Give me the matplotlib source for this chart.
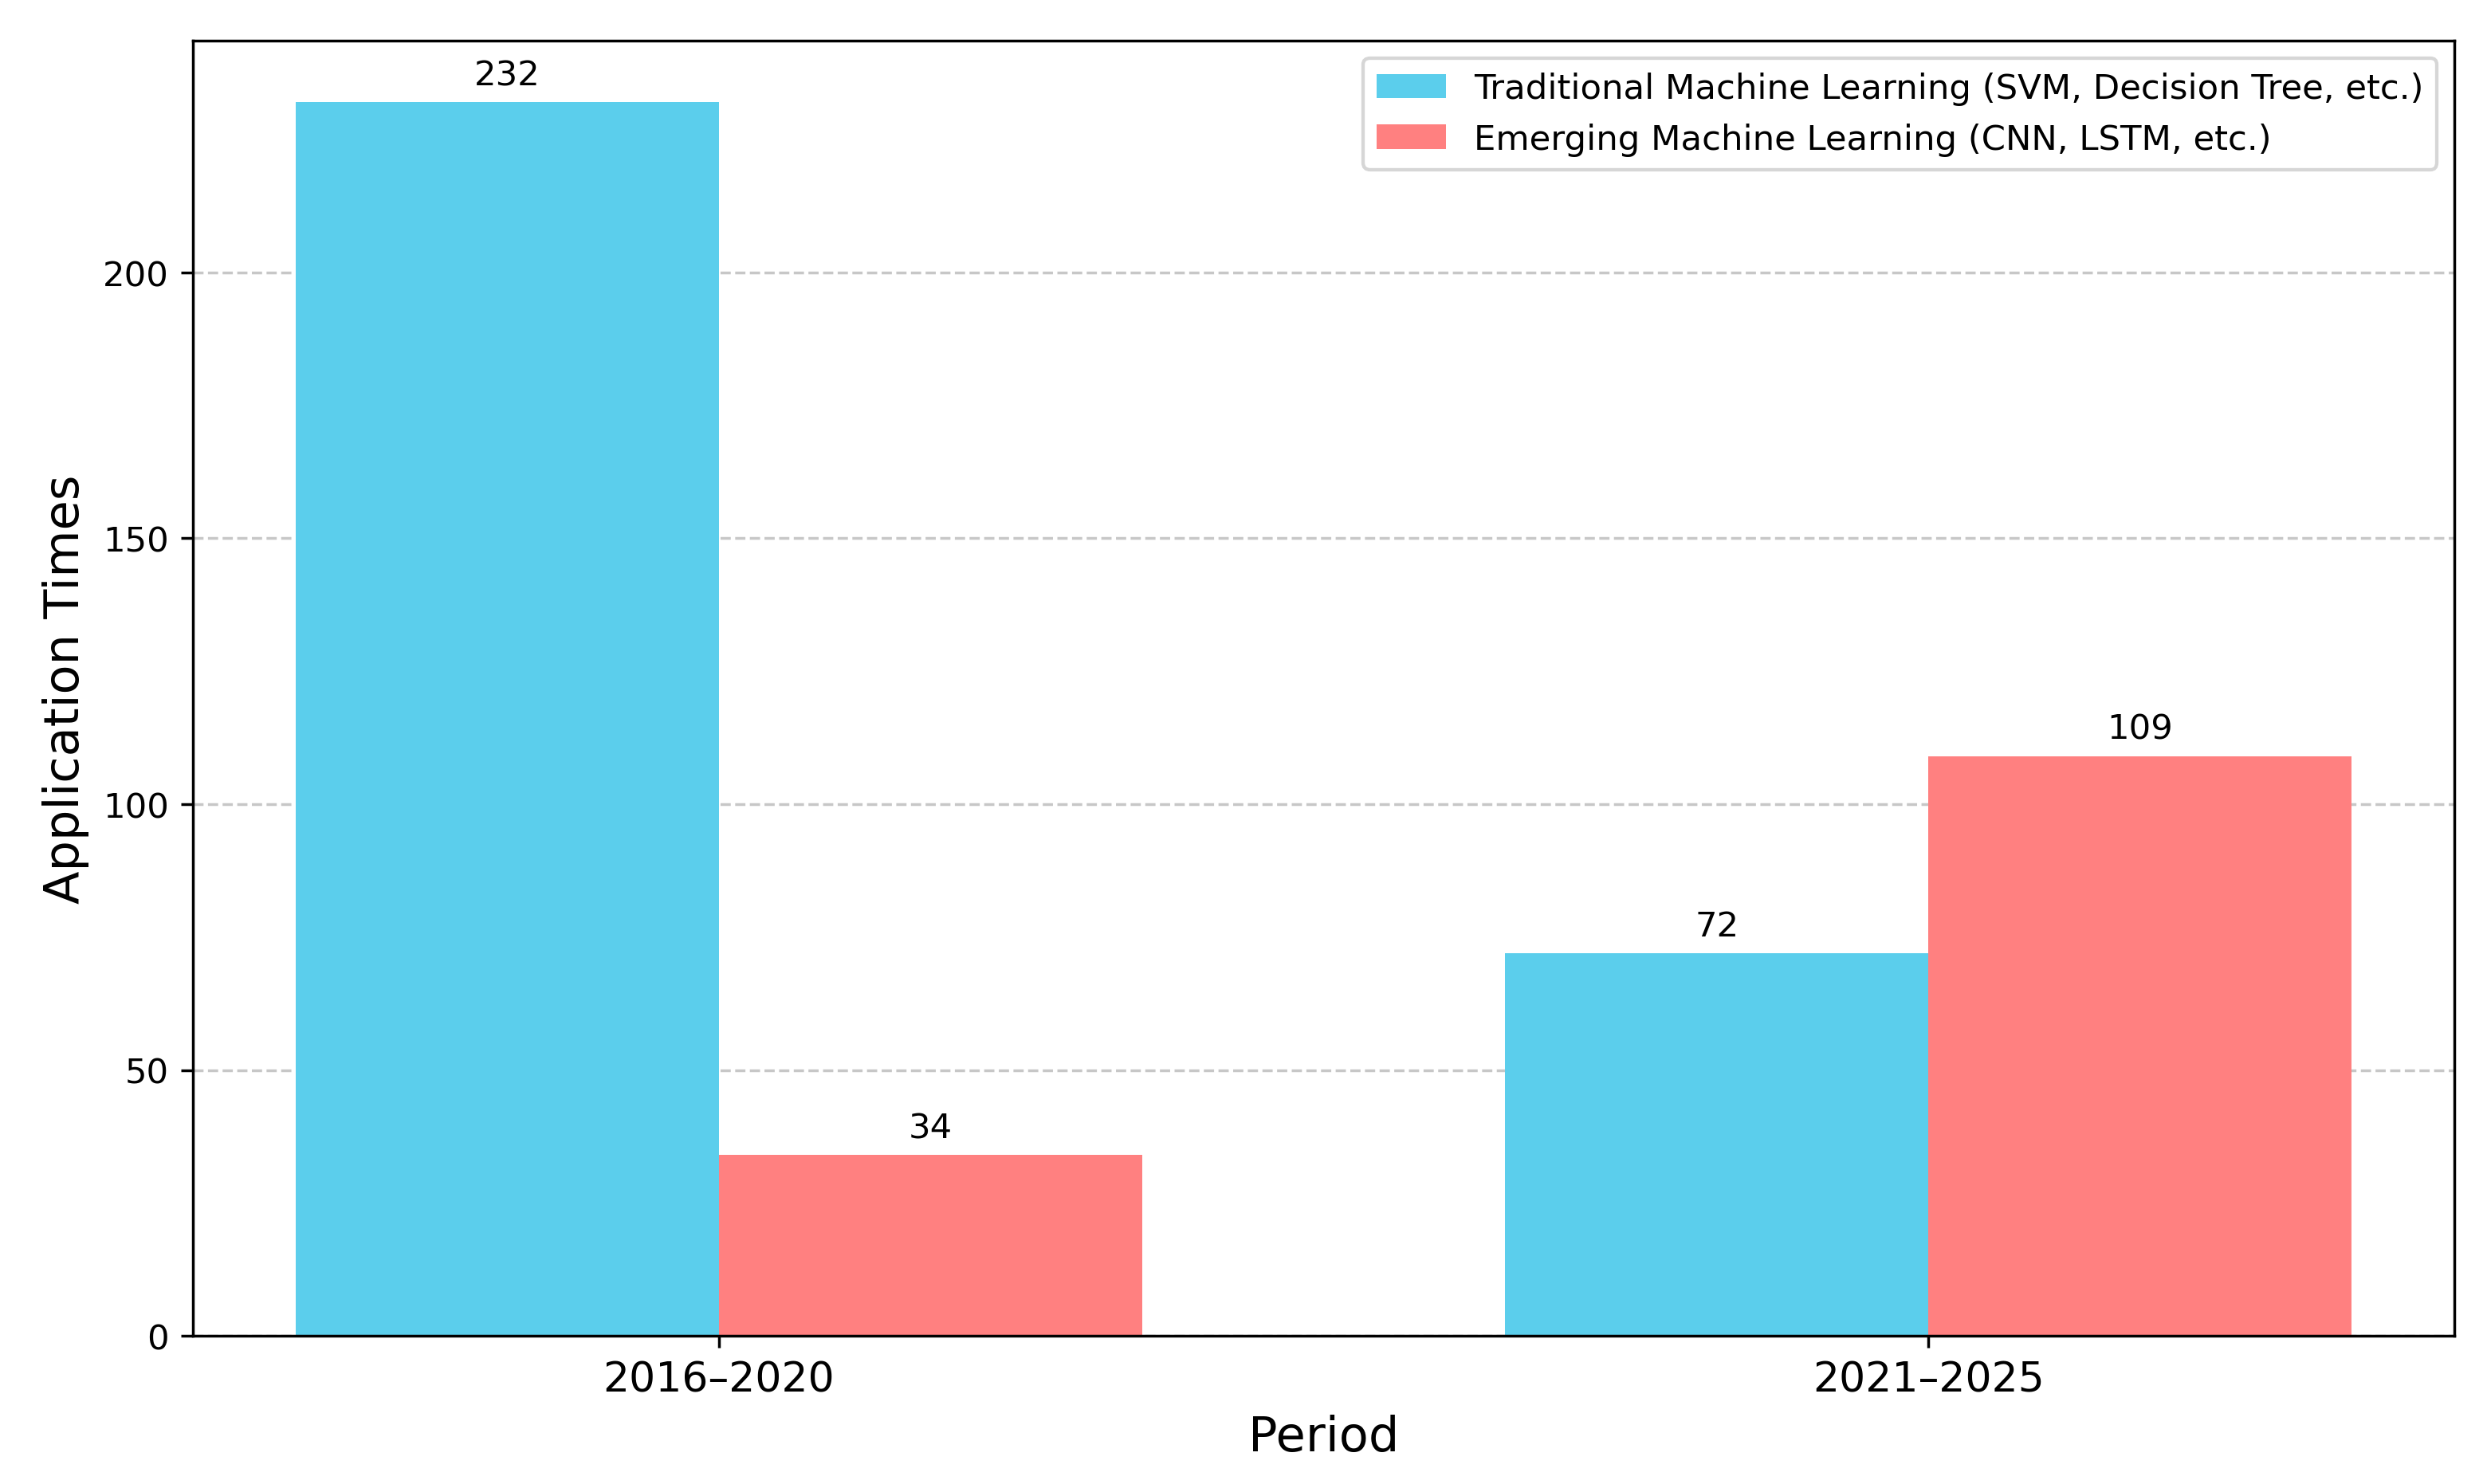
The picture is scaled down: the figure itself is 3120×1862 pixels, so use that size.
import matplotlib
matplotlib.use("Agg")
import matplotlib.pyplot as plt
import numpy as np

periods = ["2016\u20132020", "2021\u20132025"]
traditional = [232, 72]
emerging = [34, 109]
series_labels = ["Traditional Machine Learning (SVM, Decision Tree, etc.)",
                 "Emerging Machine Learning (CNN, LSTM, etc.)"]

fig, ax = plt.subplots(figsize=(10, 5.971), dpi=312)
x = np.arange(len(periods))
w = 0.35
b1 = ax.bar(x - w/2, traditional, w, color="#5BCEEC", label=series_labels[0], zorder=2)
b2 = ax.bar(x + w/2, emerging, w, color="#FF8080", label=series_labels[1], zorder=2)
ax.bar_label(b1, padding=3, fontsize=10)
ax.bar_label(b2, padding=3, fontsize=10)

ax.set_xticks(x)
ax.set_xticklabels(periods, fontsize=12)
ax.tick_params(axis="y", labelsize=10)
ax.set_xlabel("Period", fontsize=14)
ax.set_ylabel("Application Times", fontsize=14)
ax.grid(axis="y", linestyle="--", alpha=0.7, zorder=0)
ax.set_axisbelow(True)
ax.legend(loc="upper right", fontsize=10)

fig.subplots_adjust(left=0.0776, right=0.9869, top=0.9721, bottom=0.0998)
fig.savefig("out.png", dpi=312)
